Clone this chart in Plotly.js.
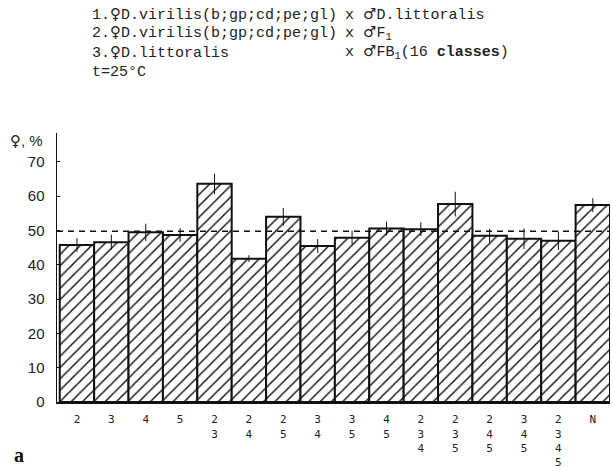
<!DOCTYPE html>
<html>
<head>
<meta charset="utf-8">
<script src="https://cdn.plot.ly/plotly-3.0.1.min.js"></script>
<style>html,body{margin:0;padding:0;background:#fff}#chart{width:613px;height:468px}</style>
</head>
<body>
<div id="chart"></div>
<script>
// ---- data ----
const categories = ['2','3','4','5','2 3','2 4','2 5','3 4','3 5','4 5','2 3 4','2 3 5','2 4 5','3 4 5','2 3 4 5','N'];
const tickLabels = ['2','3','4','5','2<br>3','2<br>4','2<br>5','3<br>4','3<br>5','4<br>5','2<br>3<br>4','2<br>3<br>5','2<br>4<br>5','3<br>4<br>5','2<br>3<br>4<br>5','N'];
const femalePct = [45.8, 46.6, 49.5, 48.7, 63.6, 41.8, 54.0, 45.5, 47.9, 50.6, 50.4, 57.7, 48.5, 47.6, 47.0, 57.4];
const errPct    = [2.0, 2.2, 2.5, 2.0, 3.0, 1.0, 2.6, 2.0, 2.0, 2.0, 2.0, 3.6, 2.0, 3.0, 2.7, 2.0];
const meanLine = 49.8;
const yTicks = [0, 10, 20, 30, 40, 50, 60, 70];

// ---- layout helpers (pixel -> paper) ----
const L = 57, R = 3, T = 133, B = 66, Wd = 613, Ht = 468;
const PW = Wd - L - R, PH = Ht - T - B;
const px = x => (x - L) / PW;
const py = y => (Ht - B - y) / PH;

const mono = 'Liberation Mono, Courier New, monospace';
const hdr = {family: mono, size: 15, color: '#222'};
const F = '<span style="font-family:DejaVu Sans">♀</span>';
const M = '<span style="font-family:DejaVu Sans">♂</span>';

function txt(x, y, text, font, extra) {
  return Object.assign({xref: 'paper', yref: 'paper', x: px(x), y: py(y), text: text,
    showarrow: false, xanchor: 'left', yanchor: 'middle', align: 'left', font: font}, extra || {});
}

const annotations = [
  txt(90, 15, '1.' + F + 'D.virilis(b;gp;cd;pe;gl)', hdr),
  txt(343, 15, 'x ' + M + 'D.littoralis', hdr),
  txt(90, 33, '2.' + F + 'D.virilis(b;gp;cd;pe;gl)', hdr),
  txt(343, 33, 'x ' + M + 'F<sub>1</sub>', hdr),
  txt(90, 52, '3.' + F + 'D.littoralis', hdr),
  txt(343, 52, 'x ' + M + 'FB<sub>1</sub>(16 <b>classes</b>)', hdr),
  txt(90, 72, 't=25°C', hdr),
  txt(8, 141, '<span style="font-family:DejaVu Sans">♀</span>, %', {family: 'Liberation Sans, Arial, sans-serif', size: 15, color: '#222'}),
  txt(12, 455, '<b>a</b>', {family: 'Liberation Serif, Times New Roman, serif', size: 20, color: '#111'})
];

const trace = {
  type: 'bar',
  x: categories,
  y: femalePct,
  marker: {
    color: 'white',
    line: {color: '#111', width: 2},
    pattern: {shape: '/', size: 8, solidity: 0.18, fgcolor: '#111', bgcolor: 'white', fillmode: 'replace'}
  },
  error_y: {type: 'data', array: errPct, visible: true, color: '#111', thickness: 1, width: 0},
  hoverinfo: 'none'
};

const layout = {
  width: Wd, height: Ht,
  margin: {l: L, r: R, t: T, b: B, pad: 0},
  paper_bgcolor: 'white', plot_bgcolor: 'white',
  showlegend: false,
  bargap: 0,
  xaxis: {
    type: 'category',
    range: [-0.58, 15.5],
    tickvals: categories, ticktext: tickLabels,
    showline: true, linecolor: '#111', linewidth: 2,
    showgrid: false, zeroline: false, ticks: '',
    ticklabelstandoff: 6,
    tickfont: {family: 'DejaVu Sans Mono, monospace', size: 11, color: '#222'}
  },
  yaxis: {
    range: [0, PH / 3.43],
    tickvals: yTicks,
    showline: true, linecolor: '#111', linewidth: 1.5,
    showgrid: false, zeroline: false,
    ticks: 'inside', ticklen: 3, tickcolor: '#111', tickwidth: 1,
    ticklabelstandoff: 8,
    tickfont: {family: 'Liberation Sans, Arial, sans-serif', size: 15, color: '#222'}
  },
  shapes: [{
    type: 'line', xref: 'paper', yref: 'y', x0: 0, x1: 1, y0: meanLine, y1: meanLine,
    line: {color: '#111', width: 1.6, dash: '6px,5px'}
  }],
  annotations: annotations
};

Plotly.newPlot('chart', [trace], layout, {staticPlot: true, displayModeBar: false});
</script>
</body>
</html>
